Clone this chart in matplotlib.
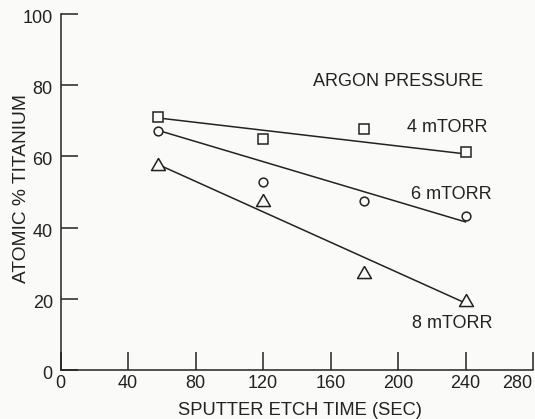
import numpy as np
import matplotlib
matplotlib.use("Agg")
import matplotlib.pyplot as plt
import matplotlib.transforms as mtransforms

plt.rcParams['font.family'] = ['Liberation Sans', 'DejaVu Sans']

# etch times (sec)
etch_time = [58, 120, 180, 240]

# atomic % titanium at each argon pressure
ti_4mtorr = [71.0, 64.9, 67.6, 61.3]
ti_6mtorr = [67.1, 52.9, 47.5, 43.4]
ti_8mtorr = [58.0, 47.8, 27.5, 19.6]

# drawn trend lines, endpoints at 58 s and 240 s
fit_time = [58, 240]
fit_4mtorr = [70.8, 60.7]
fit_6mtorr = [67.3, 41.6]
fit_8mtorr = [57.7, 18.8]

x_ticks = [0, 40, 80, 120, 160, 200, 240, 280]
y_ticks = [0, 20, 40, 60, 80, 100]

ink = '#222222'
paper = '#fafaf9'

# open triangle a little wider than it is tall
wide_tri = [(0, 1), (-1.15, -1), (1.15, -1), (0, 1)]

fig = plt.figure(figsize=(5.35, 4.19), dpi=100, facecolor=paper)
ax = fig.add_axes([0.1131, 0.1169, 0.8832, 0.8496])
ax.set_facecolor(paper)

ax.plot(fit_time, fit_4mtorr, color=ink, lw=1.1)
ax.plot(fit_time, fit_6mtorr, color=ink, lw=1.1)
ax.plot(fit_time, fit_8mtorr, color=ink, lw=1.1)

ax.plot(etch_time, ti_4mtorr, ls='none', marker='s', ms=7.6, mfc=paper, mec=ink, mew=1.1)
ax.plot(etch_time, ti_6mtorr, ls='none', marker='o', ms=6.3, mfc=paper, mec=ink, mew=1.1)
ax.plot(etch_time, ti_8mtorr, ls='none', marker=wide_tri, ms=10, mfc=paper, mec=ink, mew=1.1)

ax.set_xlim(0, 280)
ax.set_ylim(0, 100)
ax.set_xticks(x_ticks)
ax.set_yticks(y_ticks)

for side in ['top', 'right']:
    ax.spines[side].set_visible(False)
for side in ['left', 'bottom']:
    ax.spines[side].set_color(ink)
    ax.spines[side].set_linewidth(1.1)

ax.tick_params(axis='x', direction='in', length=13, width=1.1, color=ink,
               labelsize=13, labelcolor=ink, pad=3.5)
ax.tick_params(axis='y', direction='in', length=12.5, width=1.1, color=ink,
               labelsize=13, labelcolor=ink, pad=5.5)

# y tick numbers sit a touch below their ticks
shift = mtransforms.ScaledTranslation(0, -0.025, fig.dpi_scale_trans)
for lbl in ax.get_yticklabels():
    lbl.set_transform(lbl.get_transform() + shift)

# last x number is pulled in from the right edge
last = ax.get_xticklabels()[-1]
last.set_transform(last.get_transform() +
                   mtransforms.ScaledTranslation(-0.16, 0, fig.dpi_scale_trans))

ax.set_xlabel('SPUTTER ETCH TIME (SEC)', fontsize=13.2, color=ink)
ax.xaxis.set_label_coords(0.506, -0.0885)
ax.set_ylabel('ATOMIC % TITANIUM', fontsize=13.8, color=ink)
ax.yaxis.set_label_coords(-0.0646, 0.510)

ax.text(200.3, 79.8, 'ARGON PRESSURE', fontsize=13, color=ink, ha='center', va='baseline')
ax.text(205.5, 66.9, '4 mTORR', fontsize=13, color=ink, ha='left', va='baseline')
ax.text(207.7, 47.95, '6 mTORR', fontsize=13, color=ink, ha='left', va='baseline')
ax.text(208.1, 11.7, '8 mTORR', fontsize=13, color=ink, ha='left', va='baseline')

fig.savefig('out.png', dpi=100, facecolor=fig.get_facecolor())
